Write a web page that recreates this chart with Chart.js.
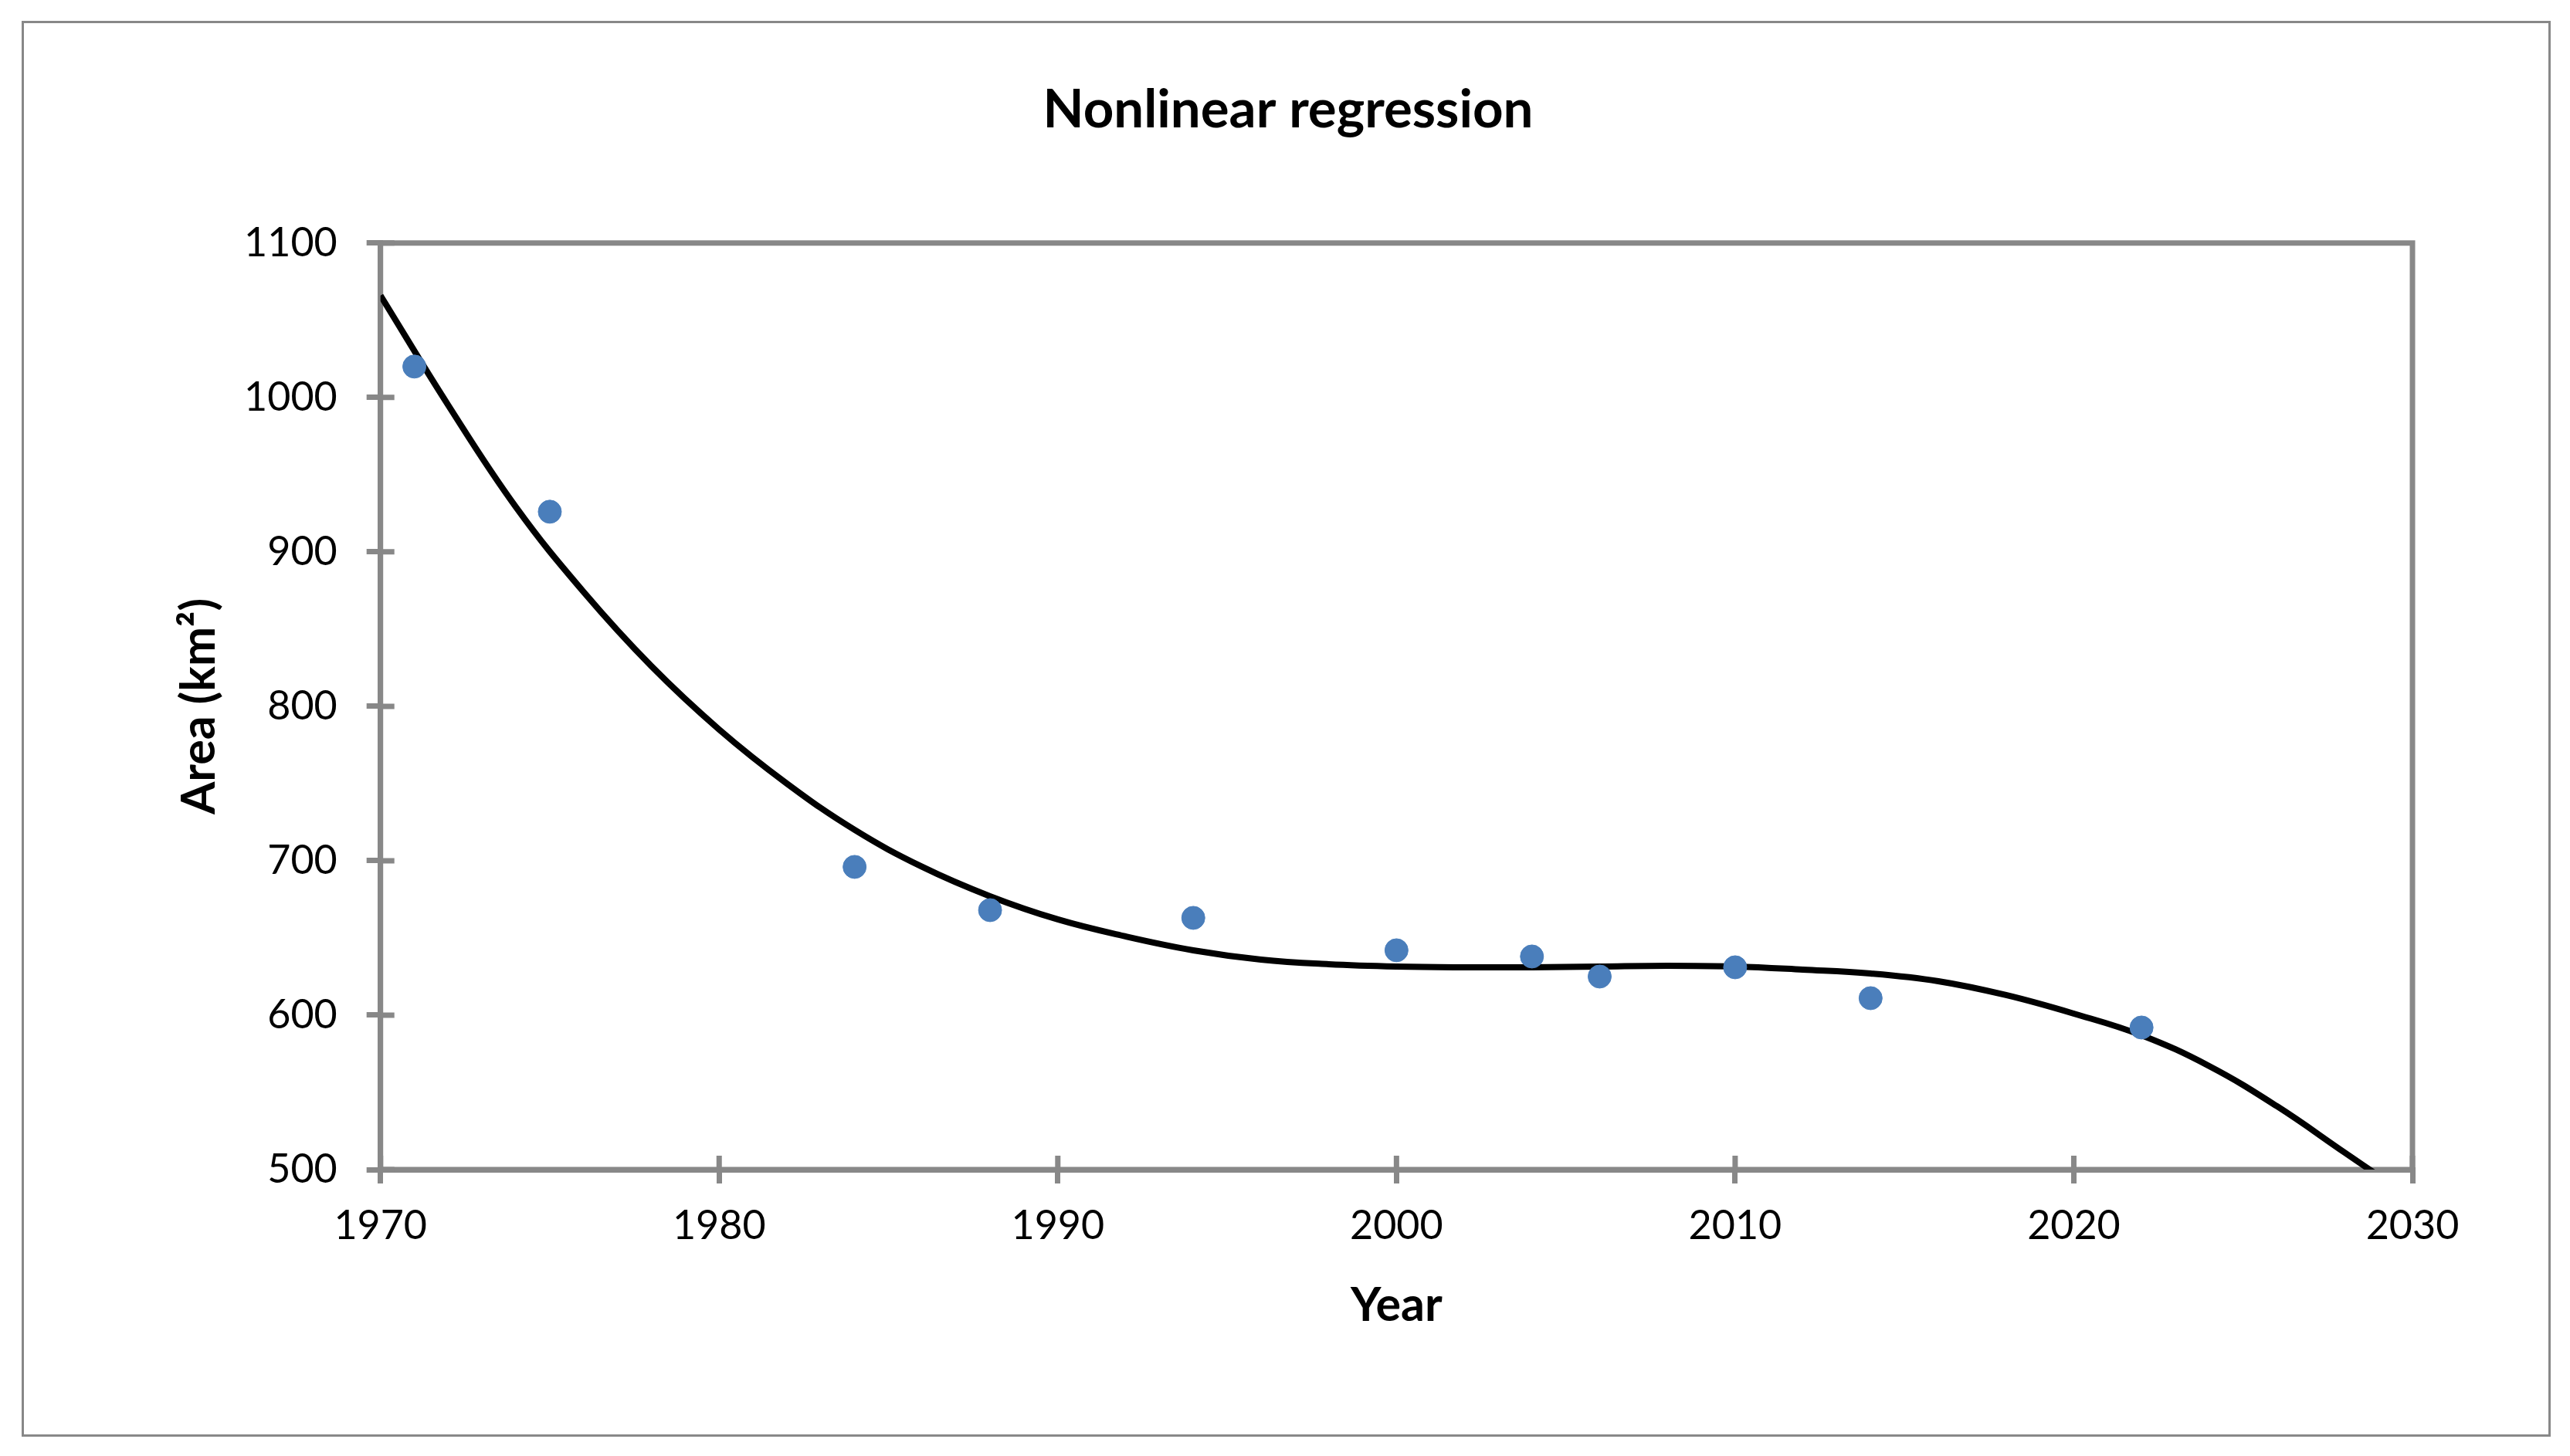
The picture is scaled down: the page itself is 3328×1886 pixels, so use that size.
<!DOCTYPE html>
<html>
<head>
<meta charset="utf-8">
<title>Nonlinear regression</title>
<script src="https://cdn.jsdelivr.net/npm/chart.js@4.4.1/dist/chart.umd.min.js"></script>
<style>
  html, body { margin: 0; padding: 0; background: #fff; }
  #wrap { position: relative; width: 3328px; height: 1886px; }
  #frame { position: absolute; left: 28px; top: 27px; width: 3269px; height: 1828px; border: 3px solid #888; pointer-events: none; }
  canvas { display: block; }
</style>
</head>
<body>
<div id="wrap">
  <canvas id="chart" width="3328" height="1886"></canvas>
  <div id="frame"></div>
</div>
<script>
// observed glacier area
var years = [1971, 1975, 1984, 1988, 1994, 2000, 2004, 2006, 2010, 2014, 2022];
var areas = [1020, 926, 696, 668, 663, 642, 638, 625, 631, 611, 592];

// trendline
var trendYears = [1970, 1972, 1974, 1976, 1978, 1980, 1982, 1984, 1986, 1988, 1990, 1992, 1994, 1996, 1998,
                  2000, 2002, 2004, 2006, 2008, 2010, 2012, 2014, 2016, 2018, 2020, 2022, 2024, 2026, 2028, 2029];
var trendAreas = [1066, 995, 929, 874, 826, 785, 750, 720, 696, 677, 662, 651, 642, 636, 633,
                  631.5, 631, 631, 631.5, 632, 631.5, 629.5, 627, 622, 613, 601, 587, 567, 541, 511, 496];

var gray = '#888888';
var tickLen = 18;

function toPoints(xs, ys) {
  return xs.map(function (x, i) { return { x: x, y: ys[i] }; });
}

// plot border and the inner half of the crossing tick marks
var plotFrame = {
  id: 'plotFrame',
  beforeDatasetsDraw: function (chart) {
    var ctx = chart.ctx, a = chart.chartArea, xs = chart.scales.x, ys = chart.scales.y;
    ctx.save();
    ctx.strokeStyle = gray;
    ctx.lineWidth = 7;
    ctx.strokeRect(a.left, a.top, a.right - a.left, a.bottom - a.top);
    ctx.beginPath();
    xs.ticks.forEach(function (t) {
      var px = xs.getPixelForValue(t.value);
      ctx.moveTo(px, a.bottom);
      ctx.lineTo(px, a.bottom - tickLen);
    });
    ys.ticks.forEach(function (t) {
      var py = ys.getPixelForValue(t.value);
      ctx.moveTo(a.left, py);
      ctx.lineTo(a.left + tickLen, py);
    });
    ctx.stroke();
    ctx.restore();
  }
};

Chart.defaults.font.family = 'Lato';
Chart.defaults.color = '#000';

var ctx = document.getElementById('chart');

var myChart = new Chart(ctx, {
  type: 'scatter',
  data: {
    datasets: [{
      label: 'Area',
      data: toPoints(years, areas),
      backgroundColor: '#4A7EBB',
      borderColor: '#4A7EBB',
      borderWidth: 1,
      pointRadius: 15,
      pointHoverRadius: 15
    }, {
      label: 'Trend',
      data: toPoints(trendYears, trendAreas),
      showLine: true,
      borderColor: '#000',
      borderWidth: 8,
      pointRadius: 0,
      pointHoverRadius: 0,
      tension: 0.4,
      clip: 0
    }]
  },
  options: {
    responsive: false,
    animation: false,
    devicePixelRatio: 1,
    layout: { padding: { left: 212, right: 204, top: 0, bottom: 0 } },
    plugins: {
      legend: { display: false },
      tooltip: { enabled: false },
      title: {
        display: true,
        text: 'Nonlinear regression',
        color: '#000',
        font: { size: 69, weight: 'bold' },
        padding: { top: 101.2, bottom: 130.8 }
      }
    },
    scales: {
      x: {
        type: 'linear',
        min: 1970,
        max: 2030,
        ticks: {
          stepSize: 10,
          padding: 24,
          font: { size: 52 },
          color: '#000',
          callback: function (v) { return String(v); }
        },
        grid: { display: true, drawOnChartArea: false, drawTicks: true, tickLength: tickLen, color: gray, lineWidth: 7, tickWidth: 7 },
        border: { display: true, color: gray, width: 7 },
        title: { display: true, text: 'Year', font: { size: 61, weight: 'bold' }, color: '#000', padding: { top: 0, bottom: 158 } },
        afterFit: function (s) { s.height = 371; s.paddingLeft = 0; s.paddingRight = 0; }
      },
      y: {
        type: 'linear',
        min: 500,
        max: 1100,
        ticks: {
          stepSize: 100,
          padding: 38,
          font: { size: 52 },
          color: '#000',
          callback: function (v) { return String(v); }
        },
        grid: { display: true, drawOnChartArea: false, drawTicks: true, tickLength: tickLen, color: gray, lineWidth: 7, tickWidth: 7 },
        border: { display: true, color: gray, width: 7 },
        title: { display: true, text: 'Area (km²)', font: { size: 61, weight: 'bold' }, color: '#000', padding: { top: 10, bottom: 0 } },
        afterFit: function (s) { s.width = 280.7; s.paddingTop = 0; s.paddingBottom = 0; }
      }
    }
  },
  plugins: [plotFrame]
});
</script>
</body>
</html>
